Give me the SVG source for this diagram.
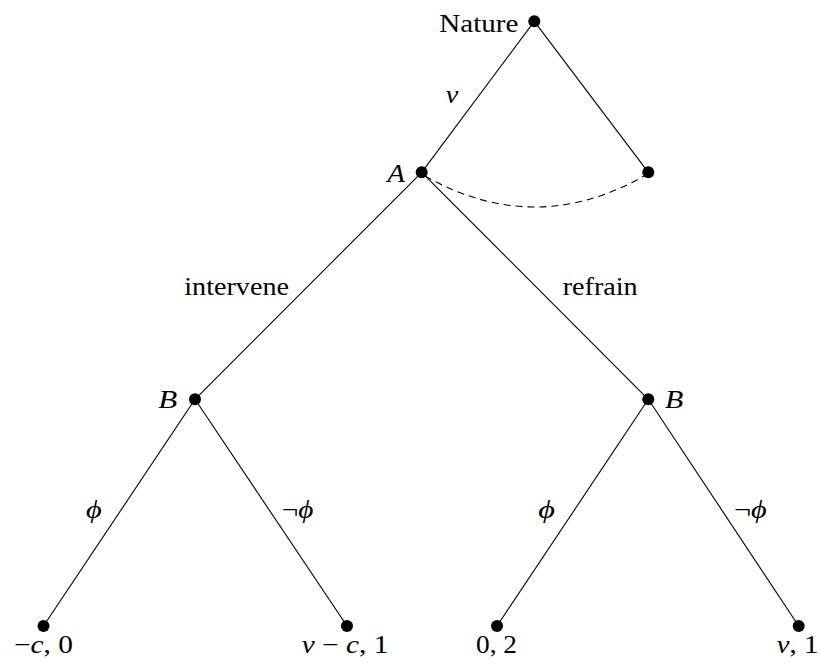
<svg xmlns="http://www.w3.org/2000/svg" width="822" height="664" viewBox="0 0 822 664">
<style>
.e{stroke:#000;stroke-width:1.1;fill:none}
.d{stroke:#000;stroke-width:1.1;fill:none;stroke-dasharray:7 5}
.n{fill:#000}
text{font-family:'Liberation Serif',serif;font-size:25px;fill:#000}
.i{font-style:italic}
</style>
<rect width="822" height="664" fill="#fff"/>
<g id="connectors">
<line class="e" x1="534.3" y1="21.3" x2="421.7" y2="172.3"/>
<line class="e" x1="534.3" y1="21.3" x2="648.3" y2="172.3"/>
<line class="e" x1="421.7" y1="172.3" x2="195" y2="399.3"/>
<line class="e" x1="421.7" y1="172.3" x2="648.3" y2="399.3"/>
<line class="e" x1="195" y1="399.3" x2="43.5" y2="626"/>
<line class="e" x1="195" y1="399.3" x2="347" y2="626"/>
<line class="e" x1="648.3" y1="399.3" x2="497" y2="626"/>
<line class="e" x1="648.3" y1="399.3" x2="798.7" y2="626"/>
<path class="d" d="M425,176 Q534.5,238 644,176"/>
<text class="i" x="445.7" y="103" textLength="12.6" lengthAdjust="spacingAndGlyphs">v</text>
<text x="184.3" y="295" textLength="104.7" lengthAdjust="spacingAndGlyphs">intervene</text>
<text x="562.7" y="295" textLength="75" lengthAdjust="spacingAndGlyphs">refrain</text>
<text class="i" x="86" y="518" textLength="15.7" lengthAdjust="spacingAndGlyphs">ϕ</text>
<text x="281.7" y="518" textLength="31.6" lengthAdjust="spacingAndGlyphs">¬<tspan class="i">ϕ</tspan></text>
<text class="i" x="538.3" y="518" textLength="16.7" lengthAdjust="spacingAndGlyphs">ϕ</text>
<text x="734" y="518" textLength="32.7" lengthAdjust="spacingAndGlyphs">¬<tspan class="i">ϕ</tspan></text>
</g>
<g id="nature">
<circle class="n" cx="534.3" cy="21.3" r="6"/>
<text x="439.3" y="31.5" textLength="79" lengthAdjust="spacingAndGlyphs">Nature</text>
</g>
<g id="nodeA">
<circle class="n" cx="421.7" cy="172.3" r="6"/>
<text class="i" x="387.3" y="181.7" textLength="17.7" lengthAdjust="spacingAndGlyphs">A</text>
</g>
<g id="nodeR">
<circle class="n" cx="648.3" cy="172.3" r="6"/>
</g>
<g id="nodeB1">
<circle class="n" cx="195" cy="399.3" r="6"/>
<text class="i" x="158.3" y="408.3" textLength="19" lengthAdjust="spacingAndGlyphs">B</text>
</g>
<g id="nodeB2">
<circle class="n" cx="648.3" cy="399.3" r="6"/>
<text class="i" x="665" y="408.3" textLength="18.3" lengthAdjust="spacingAndGlyphs">B</text>
</g>
<g id="leaf1">
<circle class="n" cx="43.5" cy="626" r="6"/>
<text x="14" y="652.7" textLength="59" lengthAdjust="spacingAndGlyphs">−<tspan class="i">c</tspan>, 0</text>
</g>
<g id="leaf2">
<circle class="n" cx="347" cy="626" r="6"/>
<text x="301.7" y="652.7" textLength="86.6" lengthAdjust="spacingAndGlyphs"><tspan class="i">v</tspan> − <tspan class="i">c</tspan>, 1</text>
</g>
<g id="leaf3">
<circle class="n" cx="497" cy="626" r="6"/>
<text x="476" y="652.7" textLength="41" lengthAdjust="spacingAndGlyphs">0, 2</text>
</g>
<g id="leaf4">
<circle class="n" cx="798.7" cy="626" r="6"/>
<text x="776.7" y="652.7" textLength="41.6" lengthAdjust="spacingAndGlyphs"><tspan class="i">v</tspan>, 1</text>
</g>
</svg>
